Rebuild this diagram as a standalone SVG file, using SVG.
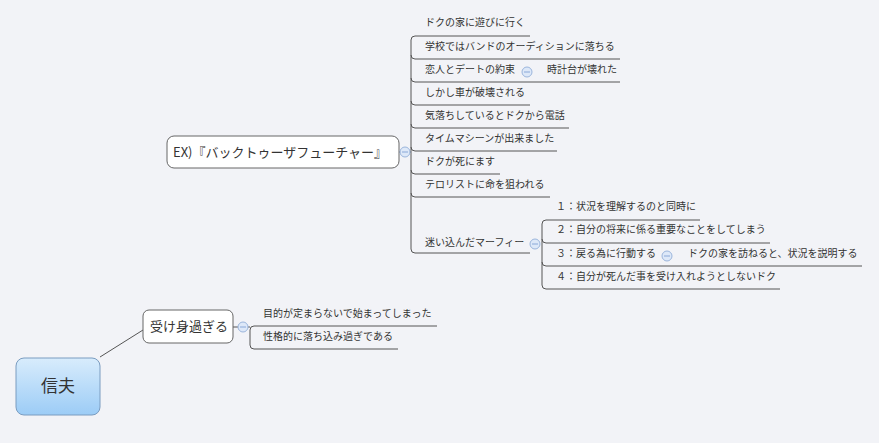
<svg xmlns="http://www.w3.org/2000/svg" width="879" height="443" viewBox="0 0 879 443">
<style>
text{font-family:"Noto Sans CJK JP","Liberation Sans",sans-serif;fill:#333}
.l{font-size:10px}
.b{font-size:13px}
.c{fill:none;stroke:#555;stroke-width:1}
.t{fill:#dde8f8;stroke:#9bb5dc;stroke-width:1}
.bx{fill:#fff;stroke:#666;stroke-width:1}
</style>
<defs>
<linearGradient id="g" x1="0" y1="0" x2="0" y2="1"><stop offset="0" stop-color="#d8ecfc"/><stop offset="1" stop-color="#9cccf6"/></linearGradient>
</defs>
<rect width="879" height="443" fill="#f2f3f7"/>
<g id="connectors">
<path class="c" d="M100,357 L143,330"/>
<path class="c" d="M399,152 H411"/>
<path class="c" d="M530,36 H415 Q411,36 411,40 V249 Q411,253 415,253 H530"/>
<path class="c" d="M411,55 Q411,59 415,59 H620"/>
<path class="c" d="M411,78 Q411,82 415,82 H620"/>
<path class="c" d="M411,101 Q411,105 415,105 H530"/>
<path class="c" d="M411,124 Q411,128 415,128 H569"/>
<path class="c" d="M411,147 Q411,151 415,151 H557"/>
<path class="c" d="M411,170 Q411,174 415,174 H500"/>
<path class="c" d="M411,193 Q411,197 415,197 H550"/>
<path class="c" d="M700,220 H546 Q542,220 542,224 V285 Q542,289 546,289 H780"/>
<path class="c" d="M542,239 Q542,243 546,243 H770"/>
<path class="c" d="M542,262 Q542,266 546,266 H862"/>
<path class="c" d="M233,327 H250"/>
<path class="c" d="M437,326 H254 Q250,326 250,330 V345 Q250,349 254,349 H398"/>
</g>
<g id="shinobu"><rect x="16" y="358" width="84" height="57" rx="8" fill="url(#g)" stroke="#7a9cc0"/><text x="58" y="392" text-anchor="middle" font-size="17">信夫</text></g>
<g id="ukemi"><rect class="bx" x="143" y="310" width="90" height="33" rx="6"/><text class="b" x="150" y="331">受け身過ぎる</text><circle class="t" cx="243" cy="327" r="5"/><path d="M240,327h6" stroke="#8aa8d8"/></g>
<g id="u1"><text class="l" x="263" y="317">目的が定まらないで始まってしまった</text></g>
<g id="u2"><text class="l" x="263" y="340">性格的に落ち込み過ぎである</text></g>
<g id="ex"><rect class="bx" x="167" y="136" width="232" height="32" rx="7"/><text class="b" x="173" y="157">EX)『バックトゥーザフューチャー』</text><circle class="t" cx="405" cy="152" r="5"/><path d="M402,152h6" stroke="#8aa8d8"/></g>
<g id="e1"><text class="l" x="425" y="26">ドクの家に遊びに行く</text></g>
<g id="e2"><text class="l" x="425" y="50">学校ではバンドのオーディションに落ちる</text></g>
<g id="e3"><text class="l" x="425" y="73">恋人とデートの約束</text><circle class="t" cx="527" cy="72" r="5"/><path d="M524,72h6" stroke="#8aa8d8"/></g>
<g id="e3a"><text class="l" x="547" y="73">時計台が壊れた</text></g>
<g id="e4"><text class="l" x="425" y="96">しかし車が破壊される</text></g>
<g id="e5"><text class="l" x="425" y="119">気落ちしているとドクから電話</text></g>
<g id="e6"><text class="l" x="425" y="142">タイムマシーンが出来ました</text></g>
<g id="e7"><text class="l" x="425" y="165">ドクが死にます</text></g>
<g id="e8"><text class="l" x="425" y="188">テロリストに命を狙われる</text></g>
<g id="e9"><text class="l" x="425" y="246">迷い込んだマーフィー</text><circle class="t" cx="535" cy="244" r="5"/><path d="M532,244h6" stroke="#8aa8d8"/></g>
<g id="m1"><text class="l" x="556" y="210">１：状況を理解するのと同時に</text></g>
<g id="m2"><text class="l" x="556" y="233">２：自分の将来に係る重要なことをしてしまう</text></g>
<g id="m3"><text class="l" x="556" y="257">３：戻る為に行動する</text><circle class="t" cx="667" cy="256" r="5"/><path d="M664,256h6" stroke="#8aa8d8"/></g>
<g id="m3a"><text class="l" x="688" y="257">ドクの家を訪ねると、状況を説明する</text></g>
<g id="m4"><text class="l" x="556" y="280">４：自分が死んだ事を受け入れようとしないドク</text></g>
</svg>
